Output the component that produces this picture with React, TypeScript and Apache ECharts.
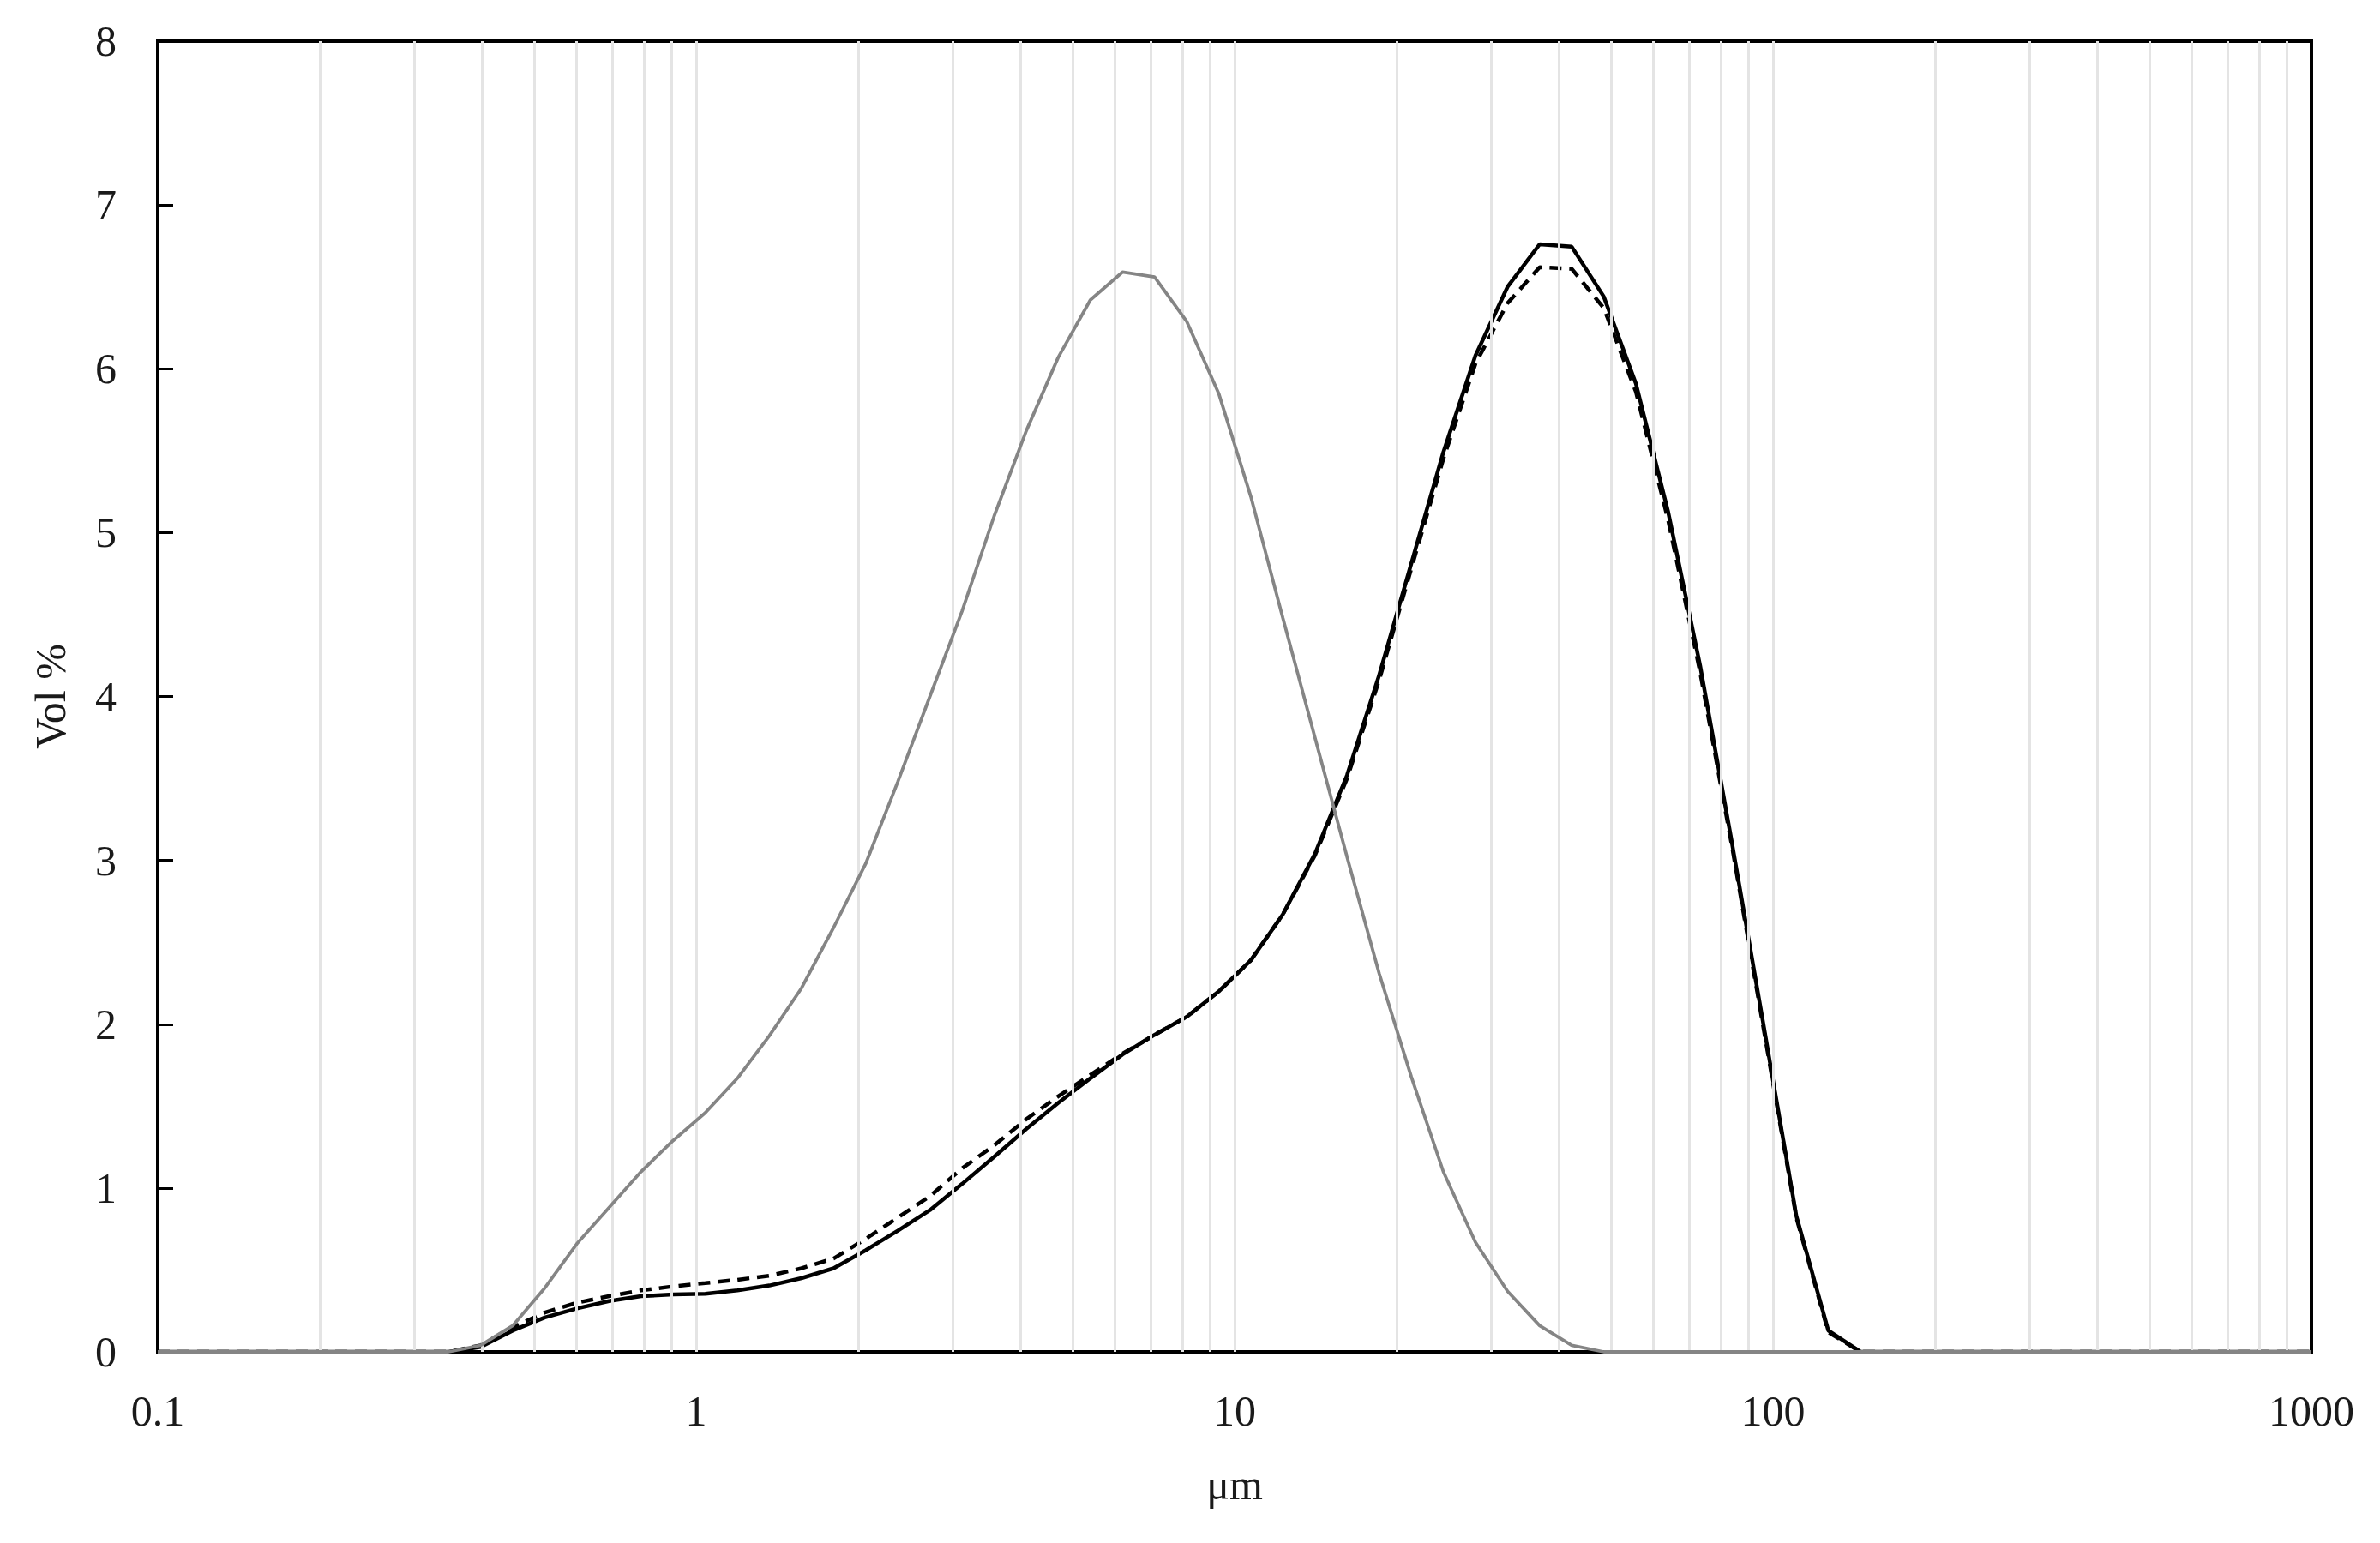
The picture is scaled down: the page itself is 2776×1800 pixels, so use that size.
import React, { useEffect, useRef } from "react";
import * as echarts from "echarts";

// particle size classes (μm)
const sizes = [
  0.1, 0.3023, 0.3468, 0.3978, 0.4563, 0.5235, 0.6005, 0.6888, 0.7901, 0.9063, 1.04,
  1.193, 1.368, 1.569, 1.8, 2.065, 2.369, 2.717, 3.117, 3.575, 4.101, 4.704, 5.396,
  6.19, 7.101, 8.145, 9.343, 10.72, 12.29, 14.1, 16.18, 18.56, 21.29, 24.42, 28.01,
  32.13, 36.86, 42.28, 48.5, 55.63, 63.82, 73.2, 83.97, 96.32, 110.5, 126.7, 145.4, 1000,
];

// Vol % — grey curve
const greyValues = [
  0, 0, 0, 0.04, 0.16, 0.39, 0.66, 0.88, 1.1, 1.29, 1.46,
  1.67, 1.93, 2.22, 2.59, 2.98, 3.48, 4.0, 4.52, 5.1, 5.62, 6.07, 6.42,
  6.59, 6.56, 6.29, 5.85, 5.22, 4.48, 3.75, 3.02, 2.31, 1.68, 1.1, 0.67,
  0.37, 0.16, 0.04, 0, 0, 0, 0, 0, 0, 0, 0, 0, 0,
];

// Vol % — black solid curve
const solidValues = [
  0, 0, 0, 0.03, 0.13, 0.21, 0.265, 0.31, 0.34, 0.35, 0.355,
  0.375, 0.405, 0.45, 0.51, 0.62, 0.74, 0.865, 1.025, 1.19, 1.36, 1.52, 1.67,
  1.815, 1.935, 2.045, 2.2, 2.39, 2.67, 3.04, 3.52, 4.13, 4.81, 5.49, 6.08,
  6.5, 6.76, 6.745, 6.44, 5.91, 5.13, 4.19, 3.1, 1.97, 0.83, 0.13, 0, 0,
];

// Vol % — black dashed curve
const dashedValues = [
  0, 0, 0, 0.04, 0.15, 0.24, 0.3, 0.34, 0.375, 0.4, 0.42,
  0.44, 0.465, 0.51, 0.57, 0.69, 0.82, 0.95, 1.12, 1.26, 1.42, 1.56, 1.69,
  1.82, 1.935, 2.045, 2.2, 2.39, 2.67, 3.03, 3.5, 4.1, 4.78, 5.45, 6.03,
  6.4, 6.62, 6.61, 6.37, 5.86, 5.08, 4.15, 3.08, 1.95, 0.82, 0.12, 0, 0,
];

const xTickLabels = ["0.1", "1", "10", "100", "1000"];
const yTickLabels = ["0", "1", "2", "3", "4", "5", "6", "7", "8"];

const verticalGridValues = [
  0.2, 0.3, 0.4, 0.5, 0.6, 0.7, 0.8, 0.9, 1,
  2, 3, 4, 5, 6, 7, 8, 9, 10,
  20, 30, 40, 50, 60, 70, 80, 90, 100,
  200, 300, 400, 500, 600, 700, 800, 900,
];

const FONT = "'Liberation Serif', 'Times New Roman', serif";

export default function App() {
  const ref = useRef<HTMLDivElement>(null);

  useEffect(() => {
    if (!ref.current) return;
    const chart = echarts.init(ref.current, undefined, { renderer: "svg" });
    const pairs = (vals: number[]) => sizes.map((s, i) => [s, vals[i]]);

    chart.setOption({
      animation: false,
      backgroundColor: "#ffffff",
      grid: {
        left: 184,
        top: 48,
        right: 80,
        bottom: 223,
        show: true,
        borderColor: "#000",
        borderWidth: 4,
        backgroundColor: "transparent",
      },
      xAxis: {
        type: "log",
        logBase: 10,
        min: 0.1,
        max: 1000,
        name: "μm",
        nameLocation: "middle",
        nameGap: 130,
        nameTextStyle: { fontFamily: FONT, fontSize: 50, color: "#1a1a1a" },
        axisLine: { show: true, onZero: false, lineStyle: { color: "#000", width: 4 } },
        axisTick: { show: true, inside: true, length: 18, lineStyle: { color: "#000", width: 3 } },
        axisLabel: {
          show: true,
          margin: 44,
          fontFamily: FONT,
          fontSize: 50,
          color: "#1a1a1a",
          formatter: (_v: number, i: number) => xTickLabels[i] ?? "",
        },
        splitLine: { show: false },
        minorTick: { show: false },
      },
      yAxis: {
        type: "value",
        min: 0,
        max: 8,
        interval: 1,
        name: "Vol %",
        nameLocation: "middle",
        nameGap: 100,
        nameRotate: 90,
        nameTextStyle: { fontFamily: FONT, fontSize: 50, color: "#1a1a1a" },
        axisLine: { show: true, lineStyle: { color: "#000", width: 4 } },
        axisTick: { show: true, inside: true, length: 18, lineStyle: { color: "#000", width: 3 } },
        axisLabel: {
          show: true,
          margin: 48,
          fontFamily: FONT,
          fontSize: 50,
          color: "#1a1a1a",
          formatter: (_v: number, i: number) => yTickLabels[i] ?? "",
        },
        splitLine: { show: false },
      },
      series: [
        {
          name: "grid",
          type: "line",
          data: [],
          z: 1,
          silent: true,
          markLine: {
            silent: true,
            symbol: "none",
            label: { show: false },
            lineStyle: { color: "#e4e4e4", width: 3, type: "solid" },
            data: verticalGridValues.map((v) => ({ xAxis: v })),
          },
        },
        {
          name: "dashed",
          type: "line",
          data: pairs(dashedValues),
          showSymbol: false,
          symbol: "none",
          z: 3,
          lineStyle: { color: "#000", width: 4.5, type: [14, 9] },
        },
        {
          name: "solid",
          type: "line",
          data: pairs(solidValues),
          showSymbol: false,
          symbol: "none",
          z: 4,
          lineStyle: { color: "#000", width: 4.5, type: "solid" },
        },
        {
          name: "grey",
          type: "line",
          data: pairs(greyValues),
          showSymbol: false,
          symbol: "none",
          z: 5,
          lineStyle: { color: "#858585", width: 3.8, type: "solid" },
        },
      ],
    });

    return () => chart.dispose();
  }, []);

  return (
    <div
      ref={ref}
      style={{ position: "fixed", left: 0, top: 0, width: 2776, height: 1800, background: "#fff" }}
    />
  );
}
